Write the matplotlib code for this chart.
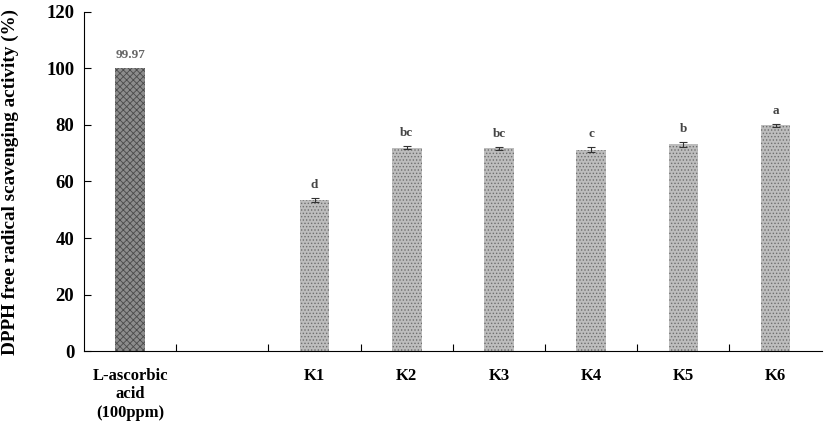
import numpy as np
import matplotlib
matplotlib.use('Agg')
import matplotlib.pyplot as plt

# data
categories = ['L-ascorbic\nacid\n(100ppm)', '', 'K1', 'K2', 'K3', 'K4', 'K5', 'K6']
values = [99.97, np.nan, 53.4, 72.0, 71.7, 71.3, 73.1, 79.8]
errors = [0, 0, 0.6, 0.6, 0.6, 1.0, 1.0, 0.6]
letters = ['99.97', '', 'd', 'bc', 'bc', 'c', 'b', 'a']

plt.rcParams['font.family'] = ['Liberation Serif', 'DejaVu Serif']
plt.rcParams['hatch.linewidth'] = 0.6

fig = plt.figure(figsize=(8.27, 4.23), dpi=100)
ax = fig.add_axes([0.1016, 0.170, 0.892, 0.802])

x = np.arange(len(categories))
for i in range(len(categories)):
    if np.isnan(values[i]):
        continue
    if i == 0:
        ax.bar(x[i], values[i], width=0.32, color='#8c8c8c', edgecolor='#4a4a4a',
               hatch='xxxxx', linewidth=0)
    else:
        ax.bar(x[i], values[i], width=0.32, color='#bdbdbd', edgecolor='#6e6e6e',
               hatch='.....', linewidth=0)
        ax.errorbar(x[i], values[i], yerr=errors[i], fmt='none', ecolor='#333333',
                    elinewidth=0.8, capsize=3, capthick=0.8)
    ax.text(x[i], values[i] + errors[i] + 2.5, letters[i], ha='center', va='bottom',
            fontsize=9.5, fontweight='bold',
            color='#666666' if i == 0 else '#444444')

ax.set_xlim(-0.5, len(categories) - 0.5)
ax.set_ylim(0, 120)
ax.set_yticks(range(0, 121, 20))
ax.set_xticks(x)
ax.set_xticklabels(categories, fontsize=12, fontweight='bold')
ax.set_xticks(np.arange(0.5, len(categories) - 0.5, 1), minor=True)
ax.tick_params(axis='x', which='major', length=0, pad=12)
ax.tick_params(axis='x', which='minor', direction='in', length=5, width=0.8)
ax.tick_params(axis='y', direction='in', length=5, width=0.8, labelsize=13.5, pad=7)
for lab in ax.get_yticklabels():
    lab.set_fontweight('bold')

ax.spines['top'].set_visible(False)
ax.spines['right'].set_visible(False)
ax.spines['left'].set_linewidth(0.8)
ax.spines['bottom'].set_linewidth(0.8)

ax.set_ylabel('DPPH free radical scavenging activity (%)', fontsize=13.8, fontweight='bold')
ax.yaxis.set_label_coords(-0.088, 0.497)

fig.savefig('out.png', dpi=100)
